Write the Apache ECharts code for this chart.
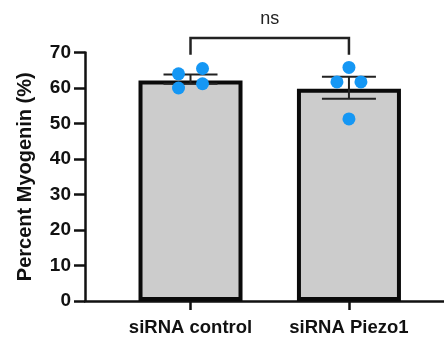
<!DOCTYPE html>
<html>
<head>
<meta charset="utf-8">
<script src="https://cdn.jsdelivr.net/npm/echarts@6/dist/echarts.min.js"></script>
<style>
  html, body { margin: 0; padding: 0; background: #fff; }
  #chart { width: 444px; height: 338px; }
</style>
</head>
<body>
<div id="chart"></div>
<script>
// groups on the x axis
var categories = ['siRNA control', 'siRNA Piezo1'];
// bar heights (mean %)
var meanValues = [62.1, 59.8];
// error bar ends
var errLow = [61.2, 57.0];
var errHigh = [63.8, 63.2];
// individual replicates
var controlPoints = [64.0, 65.5, 60.0, 61.2];
var piezoPoints = [65.8, 61.7, 61.7, 51.3];
// y ticks
var yTicks = [0, 10, 20, 30, 40, 50, 60, 70];
var sigLabel = 'ns';

var fontFam = '"Liberation Sans", Arial, Helvetica, sans-serif';

// horizontal jitter of the dots, in pixels (style only)
var controlJitter = [-12, 12, -12, 12];
var piezoJitter = [0, -12, 12, 0];

var dots = [];
controlPoints.forEach(function (v, i) {
  dots.push({ value: [1, v], symbolOffset: [controlJitter[i], 0] });
});
piezoPoints.forEach(function (v, i) {
  dots.push({ value: [2, v], symbolOffset: [piezoJitter[i], 0] });
});

var chart = echarts.init(document.getElementById('chart'));

var option = {
  animation: false,
  backgroundColor: '#fff',
  grid: { left: 85, right: 0, top: 52.5, bottom: 37 },
  xAxis: {
    type: 'value',
    min: 0.334,
    max: 2.6,
    axisLine: { show: true, lineStyle: { color: '#111', width: 2.5 } },
    axisTick: { show: true, customValues: [1, 2], length: 9, lineStyle: { color: '#111', width: 2.5 } },
    axisLabel: {
      customValues: [1, 2],
      formatter: function (v) { return categories[Math.round(v) - 1]; },
      color: '#111', fontFamily: fontFam, fontWeight: 'bold', fontSize: 18.5, margin: 17
    },
    splitLine: { show: false }
  },
  yAxis: {
    type: 'value',
    min: 0,
    max: 70,
    interval: 10,
    name: 'Percent Myogenin (%)',
    nameLocation: 'middle',
    nameGap: 50,
    nameTextStyle: { color: '#111', fontFamily: fontFam, fontWeight: 'bold', fontSize: 20 },
    axisLine: { show: true, lineStyle: { color: '#111', width: 2.5 } },
    axisTick: { show: true, length: 11, lineStyle: { color: '#111', width: 2.5 } },
    axisLabel: {
      color: '#111', fontFamily: fontFam, fontWeight: 'bold', fontSize: 19, margin: 14,
      formatter: function (v) { return yTicks.indexOf(v) >= 0 ? String(v) : ''; }
    },
    splitLine: { show: false }
  },
  series: [
    {
      type: 'bar',
      barWidth: 104,
      z: 2,
      itemStyle: { color: '#cccccc', borderColor: '#0a0a0a', borderWidth: 4 },
      data: meanValues.map(function (v, i) { return [i + 1, v]; })
    },
    {
      type: 'custom',
      z: 3,
      renderItem: function (params, api) {
        var x = api.value(0);
        var lo = api.coord([x, api.value(1)]);
        var hi = api.coord([x, api.value(2)]);
        var half = 27;
        var style = { stroke: '#222', lineWidth: 2 };
        return {
          type: 'group',
          children: [
            { type: 'line', shape: { x1: hi[0], y1: hi[1], x2: lo[0], y2: lo[1] }, style: style },
            { type: 'line', shape: { x1: hi[0] - half, y1: hi[1], x2: hi[0] + half, y2: hi[1] }, style: style },
            { type: 'line', shape: { x1: lo[0] - half, y1: lo[1], x2: lo[0] + half, y2: lo[1] }, style: style }
          ]
        };
      },
      data: meanValues.map(function (v, i) { return [i + 1, errLow[i], errHigh[i]]; })
    },
    {
      type: 'scatter',
      z: 4,
      symbol: 'circle',
      symbolSize: 13,
      itemStyle: { color: '#1597f4', opacity: 1 },
      data: dots
    },
    {
      // significance bracket between the two groups
      type: 'custom',
      z: 3,
      clip: false,
      renderItem: function (params, api) {
        var a = api.coord([api.value(0), api.value(3)]);
        var b = api.coord([api.value(1), api.value(3)]);
        var top = api.coord([api.value(0), api.value(2)])[1];
        var txt = api.coord([(api.value(0) + api.value(1)) / 2, api.value(4)]);
        return {
          type: 'group',
          children: [
            {
              type: 'polyline',
              shape: { points: [[a[0], a[1]], [a[0], top], [b[0], top], [b[0], b[1]]] },
              style: { stroke: '#222', lineWidth: 2.5, fill: null }
            },
            {
              type: 'text',
              x: txt[0], y: txt[1],
              style: {
                text: sigLabel, fill: '#222', font: '18px ' + fontFam,
                align: 'center', verticalAlign: 'middle'
              }
            }
          ]
        };
      },
      data: [[1, 2, 74.1, 69.4, 79.4]]
    }
  ]
};

chart.setOption(option);
</script>
</body>
</html>
